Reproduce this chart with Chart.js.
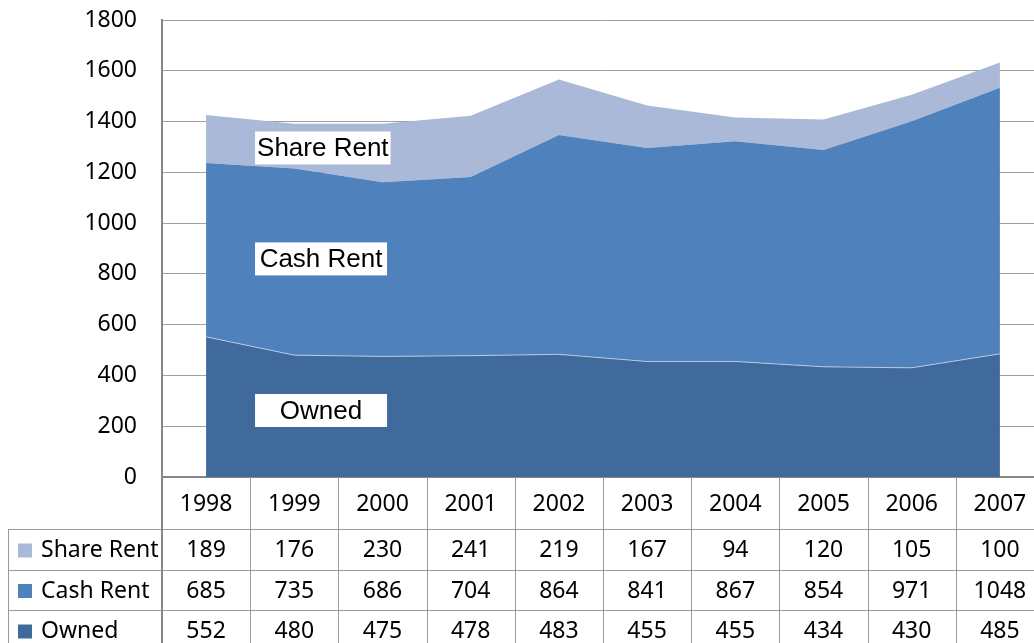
<!DOCTYPE html>
<html>
<head>
<meta charset="utf-8">
<script src="https://cdn.jsdelivr.net/npm/chart.js@4.4.1/dist/chart.umd.min.js"></script>
<style>
  html, body { margin: 0; padding: 0; background: #fff; overflow: hidden; }
  #wrap { width: 1044px; height: 643px; position: relative; }
</style>
</head>
<body>
<div id="wrap"><canvas id="c"></canvas></div>
<script>
// ---- data ----
const years = ['1998', '1999', '2000', '2001', '2002', '2003', '2004', '2005', '2006', '2007'];
const owned = [552, 480, 475, 478, 483, 455, 455, 434, 430, 485];
const cashRent = [685, 735, 686, 704, 864, 841, 867, 854, 971, 1048];
const shareRent = [189, 176, 230, 241, 219, 167, 94, 120, 105, 100];
const seriesNames = ['Owned', 'Cash Rent', 'Share Rent'];
const yMin = 0, yMax = 1800, yStep = 200;

const colOwned = '#416A9C';
const colCash = '#4F81BD';
const colShare = '#AAB9D7';

const tableFont = '23px "Noto Sans"';
const labelFont = '26px "Liberation Sans"';

const tablePlugin = {
  id: 'tablePlugin',
  afterDraw(chart) {
    const ctx = chart.ctx;
    const xs = chart.scales.x;
    const ca = chart.chartArea;
    const n = years.length;
    const rowTop = [529, 570, 610];
    const rowH = [41, 40, 41];
    const bottom = chart.height;
    ctx.save();
    // horizontal lines
    ctx.strokeStyle = '#9a9a9a';
    ctx.lineWidth = 1;
    rowTop.forEach(y => {
      ctx.beginPath(); ctx.moveTo(8, y + 0.5); ctx.lineTo(chart.width, y + 0.5); ctx.stroke();
    });
    // left border of table
    ctx.beginPath(); ctx.moveTo(8.5, rowTop[0]); ctx.lineTo(8.5, bottom); ctx.stroke();
    // vertical column lines
    for (let i = 1; i <= n; i++) {
      const x = Math.round(xs.getPixelForValue(i - 0.5)) + 0.5;
      ctx.beginPath(); ctx.moveTo(x, ca.bottom); ctx.lineTo(x, bottom); ctx.stroke();
    }
    // axis continuation
    ctx.strokeStyle = '#868686';
    ctx.lineWidth = 2;
    ctx.beginPath(); ctx.moveTo(ca.left, ca.bottom); ctx.lineTo(ca.left, bottom); ctx.stroke();

    // rows
    const rows = [
      { name: 'Share Rent', vals: shareRent, color: colShare },
      { name: 'Cash Rent', vals: cashRent, color: colCash },
      { name: 'Owned', vals: owned, color: colOwned }
    ];
    ctx.font = tableFont;
    ctx.textBaseline = 'middle';
    rows.forEach((r, ri) => {
      const cy = rowTop[ri] + rowH[ri] / 2 + 1;
      ctx.fillStyle = r.color;
      ctx.fillRect(18, cy - 7, 14, 14);
      ctx.fillStyle = '#000';
      ctx.textAlign = 'left';
      ctx.fillText(r.name, 41, cy);
      ctx.textAlign = 'center';
      r.vals.forEach((v, i) => {
        ctx.fillText(String(v), xs.getPixelForValue(i), cy);
      });
    });

    // in-chart labels
    const ys = chart.scales.y;
    const labels = [
      { text: 'Share Rent', xi: 0.555, yv: 1296 },
      { text: 'Cash Rent', xi: 0.555, yv: 859 },
      { text: 'Owned', xi: 0.555, yv: 262 }
    ];
    ctx.font = labelFont;
    labels.forEach(l => {
      const w = Math.max(ctx.measureText(l.text).width + 4, 132);
      const left = xs.getPixelForValue(l.xi);
      const cy = ys.getPixelForValue(l.yv);
      ctx.fillStyle = '#fff';
      ctx.fillRect(left, cy - 16.5, w, 33);
      ctx.fillStyle = '#000';
      ctx.textAlign = 'center';
      ctx.textBaseline = 'middle';
      ctx.fillText(l.text, left + w / 2, cy + 1);
    });
    ctx.restore();
  }
};

new Chart(document.getElementById('c'), {
  type: 'line',
  data: {
    labels: years,
    datasets: [
      { label: seriesNames[0], data: owned, backgroundColor: colOwned, borderColor: 'rgba(200,215,235,0.8)', borderWidth: 1, fill: 'origin', pointRadius: 0, tension: 0 },
      { label: seriesNames[1], data: cashRent, backgroundColor: colCash, borderColor: colCash, borderWidth: 0, fill: '-1', pointRadius: 0, tension: 0 },
      { label: seriesNames[2], data: shareRent, backgroundColor: colShare, borderColor: colShare, borderWidth: 0, fill: '-1', pointRadius: 0, tension: 0 }
    ]
  },
  options: {
    responsive: true,
    maintainAspectRatio: false,
    animation: false,
    events: [],
    layout: { padding: { top: 20, left: 0, right: 0, bottom: 0 } },
    plugins: { legend: { display: false }, tooltip: { enabled: false }, title: { display: false } },
    elements: { line: { borderJoinStyle: 'miter' } },
    scales: {
      x: {
        type: 'category',
        offset: true,
        grid: { display: false, drawTicks: false },
        border: { display: true, color: '#868686', width: 2 },
        ticks: { color: '#000', font: { family: 'Noto Sans', size: 23 }, padding: 14, maxRotation: 0, autoSkip: false },
        afterFit(s) { s.height = 166; s.paddingLeft = 0; s.paddingRight = 0; }
      },
      y: {
        stacked: true,
        min: yMin, max: yMax,
        ticks: { stepSize: yStep, color: '#000', font: { family: 'Noto Sans', size: 23 }, padding: 25, callback: v => String(v) },
        grid: { color: '#a0a0a0', lineWidth: 1, drawTicks: false },
        border: { display: true, color: '#868686', width: 2 },
        afterFit(s) { s.width = 162; s.paddingTop = 0; s.paddingBottom = 0; }
      }
    }
  },
  plugins: [tablePlugin]
});
</script>
</body>
</html>
